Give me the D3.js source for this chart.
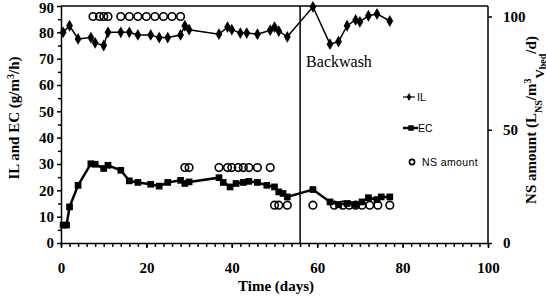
<!DOCTYPE html>
<html>
<head>
<meta charset="utf-8">
<script src="https://cdn.jsdelivr.net/npm/d3@7"></script>
<style>
  body { margin: 0; background: #fff; }
  svg { display: block; }
  .tick text { font-family: "Liberation Serif", serif; font-weight: bold; font-size: 15px; }
  .axis path, .axis line { stroke: #000; stroke-width: 1.5; }
</style>
</head>
<body>
<svg width="546" height="299"></svg>
<script>
// IL (diamonds) : day / value in g/m3/h
const ilDays = [0.5, 2, 4, 7, 8, 10, 11, 14, 16, 18, 21, 23, 25, 28, 29, 30,
  37, 39, 40, 42, 43.5, 46, 49, 50, 51, 53, 59, 63, 65, 67, 69, 70, 72, 74, 77];
const ilValues = [80, 82.5, 77.5, 78, 76, 75, 80, 80, 80, 79, 79, 78, 78, 79, 82.5, 81,
  79.3, 82, 81, 79.7, 79.7, 79.3, 80.8, 82, 80.5, 78.3, 89.7, 75.5, 76.5, 82.5, 84.7, 84, 86.3, 87, 84.3];

// EC (squares)
const ecDays = [0.5, 1.3, 2, 4, 7, 8, 10, 11, 14, 16, 18, 21, 23, 25, 28, 29, 30,
  37, 38, 39.6, 41, 42.7, 44, 46, 48.2, 50, 51, 52, 53, 59, 63, 65, 67, 69, 70.5, 72, 74, 75, 77];
const ecValues = [6.8, 6.8, 13.7, 21.9, 30.1, 29.9, 28.3, 29.5, 27.6, 23.6, 23, 22.3, 21.6, 23, 23.8, 22.6, 23.2,
  24.8, 23, 21.3, 22.6, 23, 23.4, 23, 21.9, 21.3, 19.4, 18.8, 17.5, 20.3, 15.6, 14.6, 15, 14.6, 15.6, 17.2, 16.5, 17.5, 17.5];

// NS amount (open circles), right axis
const nsDays = [7.5, 9, 10, 11, 14, 16, 18, 20, 22, 24, 26, 28,
  29, 30, 37, 39, 40, 41.5, 42.7, 44, 46, 49,
  50, 51, 53, 59, 64, 66, 67.5, 69, 70.5, 72.3, 74.2, 77];
const nsValues = [100, 100, 100, 100, 100, 100, 100, 100, 100, 100, 100, 100,
  33.3, 33.3, 33.3, 33.3, 33.3, 33.3, 33.3, 33.3, 33.3, 33.3,
  16.7, 16.7, 16.7, 16.7, 16.7, 16.7, 16.7, 16.7, 16.7, 16.7, 16.7, 16.7];

const backwashDay = 56;
const xTicks = [0, 20, 40, 60, 80, 100];
const yLeftTicks = [0, 10, 20, 30, 40, 50, 60, 70, 80, 90];
const yRightTicks = [0, 50, 100];

const svg = d3.select('svg');
const x = d3.scaleLinear().domain([0, 100]).range([61, 488]);
const yL = d3.scaleLinear().domain([0, 90]).range([243, 6]);
const yR = d3.scaleLinear().domain([0, 100]).range([243, 16.5]);

// minor ticks
svg.append('g').attr('class', 'axis').attr('transform', 'translate(0,243)')
  .call(d3.axisBottom(x).tickValues(d3.range(0, 101, 2)).tickSize(4).tickFormat(''))
  .select('.domain').remove();
svg.append('g').attr('class', 'axis').attr('transform', 'translate(61,0)')
  .call(d3.axisLeft(yL).tickValues(d3.range(5, 90, 10)).tickSize(3).tickFormat(''))
  .select('.domain').remove();

// major axes
svg.append('g').attr('class', 'axis').attr('transform', 'translate(0,243)')
  .call(d3.axisBottom(x).tickValues(xTicks).tickSize(5).tickPadding(14).tickSizeOuter(0));
const yAxisG = svg.append('g').attr('class', 'axis').attr('transform', 'translate(61,0)')
  .call(d3.axisLeft(yL).tickValues(yLeftTicks).tickSize(4).tickPadding(3).tickSizeOuter(0));
yAxisG.selectAll('.tick text').filter(d => d === 90).attr('dy', '0.42em');
svg.append('g').attr('class', 'axis').attr('transform', 'translate(488,0)')
  .call(d3.axisRight(yR).tickValues(yRightTicks).tickSize(4).tickPadding(11).tickSizeOuter(0))
  .select('.domain').attr('d', `M0,${yL(0)}V${yL(90)}`);

// top frame line
svg.append('line').attr('x1', x(0)).attr('x2', x(100)).attr('y1', yL(90)).attr('y2', yL(90))
  .attr('stroke', '#000').attr('stroke-width', 1.5);

// backwash
svg.append('line').attr('x1', x(backwashDay)).attr('x2', x(backwashDay))
  .attr('y1', yL(0)).attr('y2', yL(90)).attr('stroke', '#000').attr('stroke-width', 1.5);
svg.append('text').attr('x', x(backwashDay) + 6).attr('y', 67)
  .attr('font-family', 'Liberation Serif, serif').attr('font-size', 16).text('Backwash');

const diamond = d3.symbol().type(d3.symbolDiamond).size(40);
const square = d3.symbol().type(d3.symbolSquare).size(45);

// IL
const il = ilDays.map((d, i) => [d, ilValues[i]]);
svg.append('path').datum(il)
  .attr('d', d3.line().x(d => x(d[0])).y(d => yL(d[1])))
  .attr('fill', 'none').attr('stroke', '#000').attr('stroke-width', 1.5);
svg.append('g').selectAll('path').data(il).join('path')
  .attr('transform', d => `translate(${x(d[0])},${yL(d[1])})`)
  .attr('d', diamond).attr('fill', '#000');

// EC
const ec = ecDays.map((d, i) => [d, ecValues[i]]);
svg.append('path').datum(ec)
  .attr('d', d3.line().x(d => x(d[0])).y(d => yL(d[1])))
  .attr('fill', 'none').attr('stroke', '#000').attr('stroke-width', 2.5);
svg.append('g').selectAll('path').data(ec).join('path')
  .attr('transform', d => `translate(${x(d[0])},${yL(d[1])})`)
  .attr('d', square).attr('fill', '#000');

// NS amount
svg.append('g').selectAll('circle').data(nsDays.map((d, i) => [d, nsValues[i]])).join('circle')
  .attr('cx', d => x(d[0])).attr('cy', d => yR(d[1])).attr('r', 3.8)
  .attr('fill', 'none').attr('stroke', '#000').attr('stroke-width', 1.6);

// legend
const lg = svg.append('g').attr('font-family', 'Liberation Sans, Arial, sans-serif').attr('font-size', 10.5);
lg.append('line').attr('x1', 403).attr('x2', 415).attr('y1', 97).attr('y2', 97).attr('stroke', '#000').attr('stroke-width', 1.2);
lg.append('path').attr('transform', 'translate(409,97)').attr('d', d3.symbol().type(d3.symbolDiamond).size(18)).attr('fill', '#000');
lg.append('text').attr('x', 417).attr('y', 101).text('IL');
lg.append('line').attr('x1', 403).attr('x2', 418).attr('y1', 128).attr('y2', 128).attr('stroke', '#000').attr('stroke-width', 2.5);
lg.append('path').attr('transform', 'translate(411,128)').attr('d', d3.symbol().type(d3.symbolSquare).size(30)).attr('fill', '#000');
lg.append('text').attr('x', 418).attr('y', 132).text('EC');
lg.append('circle').attr('cx', 412).attr('cy', 162).attr('r', 2.6).attr('fill', 'none').attr('stroke', '#000').attr('stroke-width', 1.6);
lg.append('text').attr('x', 422).attr('y', 166).attr('letter-spacing', 0.4).text('NS amount');

// axis titles
const title = { 'font-family': 'Liberation Serif, serif', 'font-weight': 'bold', 'font-size': 15 };
const xt = svg.append('text').attr('x', 276).attr('y', 291).attr('text-anchor', 'middle').text('Time (days)');
const lt = svg.append('text').attr('transform', 'translate(19,118) rotate(-90)').attr('text-anchor', 'middle');
lt.append('tspan').text('IL and EC (g/m');
lt.append('tspan').attr('baseline-shift', 'super').attr('font-size', 10).text('3');
lt.append('tspan').text('/h)');
const rt = svg.append('text').attr('transform', 'translate(536,120) rotate(-90)').attr('text-anchor', 'middle');
rt.append('tspan').text('NS amount (L');
rt.append('tspan').attr('baseline-shift', 'sub').attr('font-size', 10).text('NS');
rt.append('tspan').text('/m');
rt.append('tspan').attr('baseline-shift', 'super').attr('font-size', 10).text('3');
const vb = rt.append('tspan').attr('baseline-shift', 'sub').attr('font-size', 13);
vb.append('tspan').text('V');
vb.append('tspan').attr('font-size', 10).attr('dy', 2).text('bed');
rt.append('tspan').attr('dy', -2).text('/d)');
[xt, lt, rt].forEach(t => Object.entries(title).forEach(([k, v]) => t.attr(k, v)));
</script>
</body>
</html>
